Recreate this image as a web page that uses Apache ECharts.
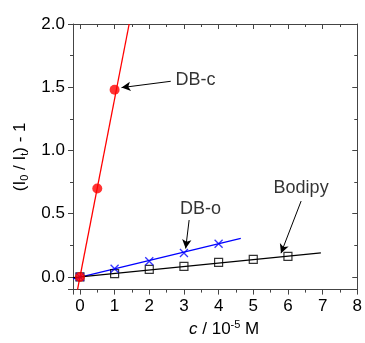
<!DOCTYPE html>
<html>
<head>
<meta charset="utf-8">
<script src="https://cdn.jsdelivr.net/npm/echarts@6/dist/echarts.min.js"></script>
<style>
  html, body { margin: 0; padding: 0; background: #fff; }
  #chart { width: 365px; height: 343px; }
</style>
</head>
<body>
<div id="chart"></div>
<script>
// measured points
const dbcX = [0, 0.5, 1];
const dbcY = [0, 0.70, 1.48];
const dboX = [0, 1, 2, 3, 4];
const dboY = [0, 0.065, 0.124, 0.19, 0.262];
const bodX = [0, 1, 2, 3, 4, 5, 6];
const bodY = [0, 0.026, 0.06, 0.083, 0.115, 0.139, 0.162];

// linear fits (end points)
const dbcFit = [[-0.07, -0.1], [1.42, 2.0]];
const dboFit = [[-0.2, -0.015], [4.64, 0.305]];
const bodFit = [[-0.2, -0.006], [6.95, 0.19]];

// annotations: label, text anchor, arrow start, arrow end (data units)
const notes = [
  { text: 'DB-c', at: [2.76, 1.555], align: 'left', from: [2.62, 1.547], to: [1.2, 1.497] },
  { text: 'DB-o', at: [3.48, 0.54], align: 'center', from: [3.15, 0.45], to: [3.05, 0.225] },
  { text: 'Bodipy', at: [6.38, 0.70], align: 'center', from: [6.38, 0.60], to: [5.8, 0.188] }
];

const xMin = -0.2, xMax = 8;
const yMin = -0.1, yMax = 2.0;

const font = 'Arial, "Liberation Sans", sans-serif';
const axisColor = '#444';

const pair = (xs, ys) => xs.map((x, i) => [x, ys[i]]);

const chart = echarts.init(document.getElementById('chart'));

function axisBase(min, max, split) {
  return {
    type: 'value',
    min: min,
    max: max,
    splitNumber: split,
    splitLine: { show: false },
    axisLine: { show: true, onZero: false, lineStyle: { color: axisColor, width: 1 } },
    axisTick: { show: true, length: 5, lineStyle: { color: axisColor } },
    minorTick: { show: true, splitNumber: 2, length: 3, lineStyle: { color: axisColor } }
  };
}

const option = {
  animation: false,
  grid: { left: 73, right: 6, top: 24, bottom: 48 },
  xAxis: [
    Object.assign(axisBase(xMin, xMax, 8), {
      position: 'bottom',
      name: '{i|c} / 10{sup|-5} M',
      nameLocation: 'middle',
      nameGap: 26,
      nameTextStyle: {
        fontFamily: font, fontSize: 17, color: '#000', padding: [0, 0, 0, 18],
        rich: {
          i: { fontFamily: font, fontSize: 17, fontStyle: 'italic', color: '#000' },
          sup: { fontFamily: font, fontSize: 11, color: '#000', padding: [0, 0, 9, 0], verticalAlign: 'top' }
        }
      },
      axisLabel: { fontFamily: font, fontSize: 17, color: '#000', margin: 8, showMinLabel: false }
    }),
    Object.assign(axisBase(xMin, xMax, 8), {
      position: 'top',
      axisLabel: { show: false },
      axisTick: { show: true, inside: true, length: 5, lineStyle: { color: axisColor } },
      minorTick: { show: true, splitNumber: 2, length: 3, lineStyle: { color: axisColor } }
    })
  ],
  yAxis: [
    Object.assign(axisBase(yMin, yMax, 4), {
      position: 'left',
      name: '(I{sub|0} / I{sub|t}) - 1',
      nameLocation: 'middle',
      nameRotate: 90,
      nameGap: 41,
      nameTextStyle: {
        fontFamily: font, fontSize: 17, color: '#000',
        rich: {
          sub: { fontFamily: font, fontSize: 11, color: '#000', padding: [9, 0, 0, 0], verticalAlign: 'bottom' }
        }
      },
      axisLabel: {
        fontFamily: font, fontSize: 17, color: '#000', margin: 8, showMinLabel: false,
        formatter: v => v.toFixed(1)
      }
    }),
    Object.assign(axisBase(yMin, yMax, 4), {
      position: 'right',
      axisLabel: { show: false },
      axisTick: { show: true, inside: true, length: 5, lineStyle: { color: axisColor } },
      minorTick: { show: true, splitNumber: 2, length: 3, lineStyle: { color: axisColor } }
    })
  ],
  series: [
    { type: 'line', data: dbcFit, symbol: 'none', lineStyle: { color: '#ff0000', width: 1.3 }, z: 2 },
    { type: 'line', data: dboFit, symbol: 'none', lineStyle: { color: '#0000ff', width: 1.3 }, z: 2 },
    { type: 'line', data: bodFit, symbol: 'none', lineStyle: { color: '#000', width: 1.2 }, z: 2 },
    {
      name: 'Bodipy', type: 'scatter', data: pair(bodX, bodY), symbol: 'rect', symbolSize: 8,
      itemStyle: { color: 'rgba(255,255,255,0)', borderColor: '#000', borderWidth: 1.2 }, z: 3
    },
    {
      name: 'DB-o', type: 'scatter', data: pair(dboX, dboY),
      symbol: 'path://M0,0L10,10M10,0L0,10', symbolSize: 8,
      itemStyle: { color: 'none', borderColor: '#0000ff', borderWidth: 1.3 }, z: 4
    },
    {
      name: 'DB-c', type: 'scatter', data: pair(dbcX, dbcY), symbol: 'circle', symbolSize: 10,
      itemStyle: { color: '#ff0000' }, z: 5
    },
    {
      type: 'line', data: [], silent: true,
      markLine: {
        silent: true, animation: false,
        symbol: ['none', 'arrow'], symbolSize: [7, 9],
        lineStyle: { color: '#000', width: 1, type: 'solid' },
        label: { show: false },
        data: notes.map(n => [{ coord: n.from }, { coord: n.to }])
      }
    },
    {
      type: 'scatter', silent: true, symbolSize: 0,
      data: notes.map(n => ({ value: n.at, label: { align: n.align } })),
      label: {
        show: true, position: 'inside', fontFamily: font, fontSize: 18, color: '#000',
        formatter: p => notes[p.dataIndex].text
      },
      z: 6
    }
  ]
};

chart.setOption(option);
</script>
</body>
</html>
